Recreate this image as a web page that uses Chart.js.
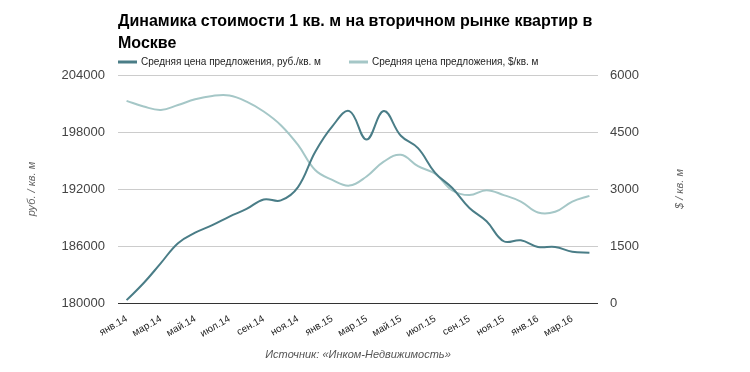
<!DOCTYPE html>
<html>
<head>
<meta charset="utf-8">
<script src="https://cdn.jsdelivr.net/npm/chart.js@4.4.0/dist/chart.umd.min.js"></script>
<style>
  html, body { margin: 0; padding: 0; background: #fff; }
  #wrap { width: 750px; height: 372px; }
</style>
</head>
<body>
<div id="wrap"><canvas id="chart"></canvas></div>
<script>
const TITLE = ['Динамика стоимости 1 кв. м на вторичном рынке квартир в', 'Москве'];
const SOURCE = 'Источник: «Инком-Недвижимость»';

const months = [
  'янв.14', 'фев.14', 'мар.14', 'апр.14', 'май.14', 'июн.14', 'июл.14', 'авг.14', 'сен.14', 'окт.14', 'ноя.14', 'дек.14',
  'янв.15', 'фев.15', 'мар.15', 'апр.15', 'май.15', 'июн.15', 'июл.15', 'авг.15', 'сен.15', 'окт.15', 'ноя.15', 'дек.15',
  'янв.16', 'фев.16', 'мар.16', 'апр.16'
];

// руб. / кв. м
const priceRub = [
  180300, 182100, 184200, 186300, 187400, 188200, 189100, 189900, 190900, 190800, 192200, 195900,
  198600, 200200, 197200, 200200, 197600, 196300, 193700, 192100, 190000, 188600, 186500, 186600,
  185900, 185900, 185400, 185300
];

// $ / кв. м
const priceUsd = [
  5320, 5170, 5080, 5210, 5360, 5450, 5460, 5300, 5040, 4680, 4160, 3500,
  3240, 3090, 3330, 3720, 3900, 3600, 3400, 2960, 2840, 2970, 2840, 2670,
  2380, 2400, 2670, 2820
];

const rubTicks = [180000, 186000, 192000, 198000, 204000];
const usdTicks = [0, 1500, 3000, 4500, 6000];

const DARK = '#4a7d87';
const LIGHT = '#a5c7c7';
const FONT = '"Liberation Sans", Arial, sans-serif';

// title, legend and the right axis title are drawn by hand to sit where the original has them
const extras = {
  id: 'extras',
  afterDraw(chart) {
    const ctx = chart.ctx;
    const area = chart.chartArea;
    ctx.save();
    ctx.fillStyle = '#000';
    ctx.textBaseline = 'middle';
    ctx.textAlign = 'left';
    ctx.font = 'bold 16px ' + FONT;
    ctx.fillText(TITLE[0], area.left, 22);
    ctx.fillText(TITLE[1], area.left, 44);

    ctx.font = '10px ' + FONT;
    const legendX = [area.left, 349];
    chart.data.datasets.forEach((ds, i) => {
      const x = legendX[i];
      ctx.strokeStyle = ds.borderColor;
      ctx.lineWidth = 3;
      ctx.beginPath();
      ctx.moveTo(x, 62);
      ctx.lineTo(x + 19, 62);
      ctx.stroke();
      ctx.fillStyle = '#222';
      ctx.fillText(ds.label, x + 23, 62);
    });

    ctx.font = 'italic 11px ' + FONT;
    ctx.fillStyle = '#666';
    ctx.textAlign = 'center';
    ctx.translate(680, (area.top + area.bottom) / 2);
    ctx.rotate(-Math.PI / 2);
    ctx.fillText('$ / кв. м', 0, 0);
    ctx.restore();
  }
};

new Chart(document.getElementById('chart'), {
  type: 'line',
  data: {
    labels: months,
    datasets: [
      {
        label: 'Средняя цена предложения, руб./кв. м',
        data: priceRub,
        yAxisID: 'y',
        borderColor: DARK,
        backgroundColor: DARK,
        borderWidth: 2,
        pointRadius: 0,
        tension: 0.4
      },
      {
        label: 'Средняя цена предложения, $/кв. м',
        data: priceUsd,
        yAxisID: 'y1',
        borderColor: LIGHT,
        backgroundColor: LIGHT,
        borderWidth: 2,
        pointRadius: 0,
        tension: 0.4
      }
    ]
  },
  options: {
    responsive: true,
    maintainAspectRatio: false,
    animation: false,
    layout: { padding: { top: 75, left: 0, right: 0, bottom: 0 } },
    plugins: {
      legend: { display: false },
      title: { display: false },
      tooltip: { enabled: false }
    },
    scales: {
      x: {
        offset: true,
        grid: { display: false, offset: true },
        border: { display: false },
        afterFit(s) { s.height = 69; },
        ticks: {
          autoSkip: false,
          maxRotation: 30,
          minRotation: 30,
          padding: 2,
          color: '#222',
          font: { family: FONT, size: 10 },
          callback(v, i) { return i % 2 === 0 ? months[i] : ''; }
        },
        title: {
          display: true,
          text: SOURCE,
          color: '#555',
          padding: { top: 0, bottom: 10 },
          font: { family: FONT, size: 11, style: 'italic' }
        }
      },
      y: {
        position: 'left',
        min: 180000,
        max: 204000,
        afterFit(s) { s.width = 118; },
        afterBuildTicks(s) { s.ticks = rubTicks.map(v => ({ value: v })); },
        grid: {
          drawTicks: false,
          color: c => c.tick.value === 180000 ? '#333' : '#ccc',
          lineWidth: 1
        },
        border: { display: false },
        ticks: {
          padding: 13,
          color: '#444',
          font: { family: FONT, size: 13 },
          callback: v => String(v)
        },
        title: {
          display: true,
          text: 'руб. / кв. м',
          color: '#666',
          padding: { top: 25, bottom: 0 },
          font: { family: FONT, size: 11, style: 'italic' }
        }
      },
      y1: {
        position: 'right',
        min: 0,
        max: 6000,
        afterFit(s) { s.width = 152; },
        afterBuildTicks(s) { s.ticks = usdTicks.map(v => ({ value: v })); },
        grid: { display: false, drawTicks: false },
        border: { display: false },
        ticks: {
          padding: 12,
          color: '#444',
          font: { family: FONT, size: 13 },
          callback: v => String(v)
        }
      }
    }
  },
  plugins: [extras]
});
</script>
</body>
</html>
